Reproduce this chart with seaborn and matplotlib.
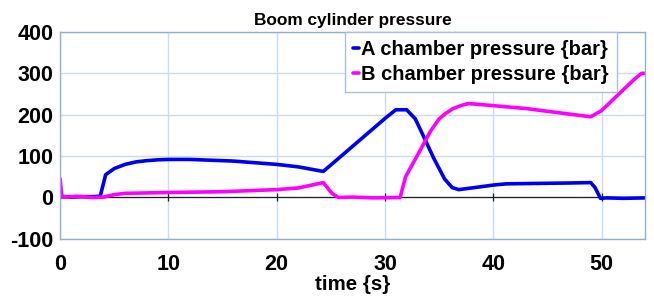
import numpy as np
import pandas as pd
import seaborn as sns
import matplotlib.pyplot as plt

# A chamber pressure {bar}
time_a = [0.0, 0.3, 1.0, 2.0, 3.0, 3.7, 4.2, 5.0, 6.0, 7.0, 8.0, 9.0, 10.0, 12.0,
          14.0, 16.0, 18.0, 20.0, 22.0, 24.3, 26.0, 28.0, 30.0, 31.0, 32.0, 32.8,
          33.7, 34.5, 35.5, 36.2, 36.8, 38.0, 40.0, 41.2, 44.0, 47.0, 49.0, 49.4,
          49.9, 50.5, 52.0, 54.0]
pressure_a = [2, 2, 1, 2, 2, 3, 55, 70, 80, 86, 89, 91, 92, 92,
              90, 88, 84, 80, 74, 63, 101, 146, 191, 212, 212, 190,
              140, 95, 45, 24, 19, 23, 30, 33, 34, 35, 36, 24,
              -2, -1, -2, -1]

# B chamber pressure {bar}
time_b = [0.0, 0.15, 0.5, 1.5, 3.0, 4.0, 5.0, 6.0, 8.0, 10.0, 15.0, 20.0, 22.0,
          24.3, 25.1, 25.7, 27.0, 29.0, 31.4, 31.9, 33.1, 34.2, 35.0, 35.6,
          36.3, 37.0, 37.7, 40.0, 43.0, 46.0, 49.0, 50.0, 51.0, 52.0, 53.0,
          53.7, 54.0]
pressure_b = [45, 4, 1, 3, 0, 1, 7, 10, 11, 12, 14, 19, 23,
              36, 10, 0, 1, -1, 0, 50, 107, 160, 190, 203,
              215, 222, 227, 222, 215, 205, 195, 210, 235, 260, 285,
              300, 300]

label_a = "A chamber pressure {bar}"
label_b = "B chamber pressure {bar}"
x_ticks = [0, 10, 20, 30, 40, 50]
y_ticks = [-100, 0, 100, 200, 300, 400]

df = pd.concat([
    pd.DataFrame({"time": time_a, "pressure": pressure_a, "series": label_a}),
    pd.DataFrame({"time": time_b, "pressure": pressure_b, "series": label_b}),
])

sns.set_style("white")
plt.rcParams["font.family"] = ["Liberation Sans", "DejaVu Sans"]
plt.rcParams["axes.unicode_minus"] = False
plt.rcParams["text.color"] = "black"
plt.rcParams["axes.labelcolor"] = "black"
plt.rcParams["xtick.color"] = "black"
plt.rcParams["ytick.color"] = "black"

fig, ax = plt.subplots(figsize=(6.54, 2.96), dpi=100)
fig.subplots_adjust(left=0.092, right=0.986, top=0.892, bottom=0.193)

sns.lineplot(data=df, x="time", y="pressure", hue="series",
             palette={label_a: "#0000f0", label_b: "#ff00ff"},
             linewidth=2.6, sort=False, estimator=None, ax=ax)

ax.axhline(0, color="#202020", linewidth=0.9, zorder=1)
ax.scatter(x_ticks[1:], [0] * (len(x_ticks) - 1), marker="|", s=30,
           color="#202020", linewidths=0.9, zorder=1)

ax.set_xlim(0, 54)
ax.set_ylim(-100, 400)
ax.set_xticks(x_ticks)
ax.set_yticks(y_ticks)
ax.grid(True, color="#c8dcf2", linewidth=1.0)
ax.set_axisbelow(True)
ax.tick_params(axis="both", length=0, labelsize=15.5, labelcolor="black")
ax.tick_params(axis="x", pad=11)
ax.tick_params(axis="y", pad=5)
for lab in ax.get_xticklabels() + ax.get_yticklabels():
    lab.set_fontweight("bold")
for spine in ax.spines.values():
    spine.set_color("#93aed4")
    spine.set_linewidth(1.0)

ax.set_title("Boom cylinder pressure", fontsize=12.4, fontweight="bold",
             pad=5, color="black")
ax.set_xlabel("time {s}", fontsize=14.8, fontweight="bold", labelpad=0,
              color="black")
ax.set_ylabel("")

leg = ax.legend(loc="upper left", bbox_to_anchor=(0.487, 1.0), fancybox=False,
                handlelength=0.3, handletextpad=0.1, borderpad=0.4,
                labelspacing=0.3, prop={"weight": "bold", "size": 14.5},
                framealpha=1.0, borderaxespad=0, labelcolor="black")
leg.get_frame().set_edgecolor("#a9bfdc")
leg.get_frame().set_linewidth(1.0)

fig.savefig("out.png", dpi=100)
